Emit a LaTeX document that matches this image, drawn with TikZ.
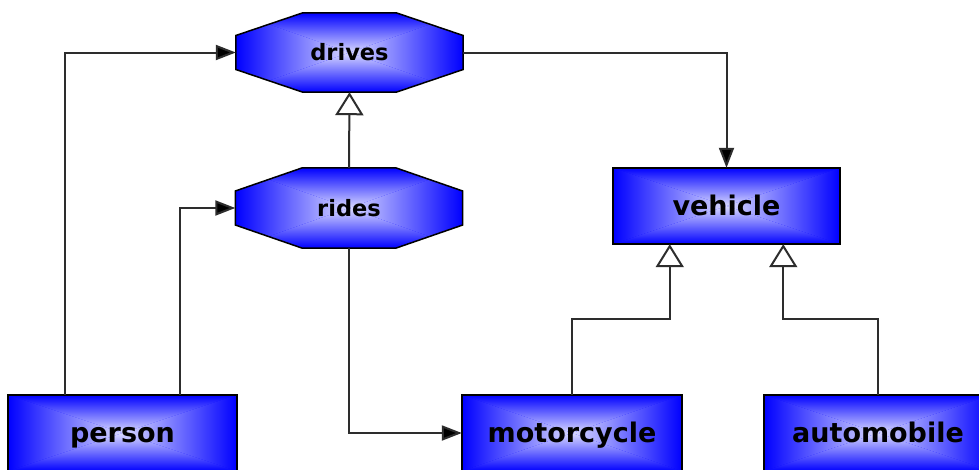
\documentclass[tikz,border=0pt]{standalone}
\usepackage{fontspec}
\setmainfont{DejaVu Sans}
\usetikzlibrary{arrows.meta,calc,backgrounds}
\definecolor{boxblue}{RGB}{0,0,255}
\definecolor{boxlight}{RGB}{218,218,255}
\definecolor{linegray}{RGB}{45,45,45}
\newcommand\pyrshade[2]{%
 \fill[boxblue] ($(#1.south west)+(0,-#2)$) rectangle (#1.north east);
 \shade[top color=boxblue, bottom color=boxlight] (#1.north west) -- (#1.north east) -- (#1.center) -- cycle;
 \shade[top color=boxlight, bottom color=boxblue] (#1.south west) -- (#1.south east) -- (#1.center) -- cycle;
 \shade[left color=boxblue, right color=boxlight] (#1.north west) -- (#1.south west) -- (#1.center) -- cycle;
 \shade[left color=boxlight, right color=boxblue] (#1.north east) -- (#1.south east) -- (#1.center) -- cycle;
}
\newcommand\octpath[1]{($(#1.west)+(0,17)$) -- ($(#1.north west)+(67,0)$) -- ($(#1.north east)+(-67,0)$) -- ($(#1.east)+(0,17)$) -- ($(#1.east)+(0,-17)$) -- ($(#1.south east)+(-67,0)$) -- ($(#1.south west)+(67,0)$) -- ($(#1.west)+(0,-17)$) -- cycle}
\newcommand\boxnode[2][0]{%
 \pyrshade{#2}{#1}
 \draw[line width=1.5pt, black] ($(#2.south west)+(0,-#1)$) rectangle (#2.north east);
}
\newcommand\octnode[1]{%
 \begin{scope}
 \clip \octpath{#1};
 \pyrshade{#1}{0}
 \end{scope}
 \draw[line width=1.5pt, black, line join=miter] \octpath{#1};
}
\begin{document}
\begin{tikzpicture}[x=1pt,y=1pt,
  bigbox/.style={rectangle, inner sep=0pt, minimum height=76pt, text=black,
    text height=20pt, text depth=2pt,
    font=\fontsize{27}{31}\selectfont\bfseries},
  octbox/.style={rectangle, inner sep=0pt, minimum height=79pt, minimum width=227pt, text=black,
    text height=17pt, text depth=1pt,
    font=\fontsize{22.5}{26}\selectfont\bfseries},
  assoc/.style={draw=linegray, line width=2pt, -{Triangle[length=20pt,width=15pt,fill=black]}},
  gen/.style={draw=linegray, line width=2pt, -{Triangle[open,length=23pt,width=28pt,fill=white]}}]
\useasboundingbox (0,0) rectangle (979,-469);

\node[octbox] (drives) at (349.5,-52.5) {drives};
\node[octbox, minimum height=80pt] (rides) at (349,-208) {rides};
\node[bigbox, minimum width=227pt] (vehicle) at (726.5,-206) {vehicle};
\node[bigbox, minimum width=229pt] (person) at (122.5,-433) {person};
\node[bigbox, minimum width=220pt] (motorcycle) at (572,-433) {motorcycle};
\node[bigbox, minimum width=228pt] (automobile) at (878,-433) {automobile};

\begin{pgfonlayer}{background}
\fill[white] (0,0) rectangle (979,-469);
\octnode{drives}
\octnode{rides}
\boxnode{vehicle}
\boxnode[12]{person}
\boxnode[12]{motorcycle}
\boxnode[12]{automobile}
\end{pgfonlayer}

\draw[assoc] ([xshift=-57.25pt]person.north) |- (drives.west);
\draw[assoc] ([xshift=57.25pt]person.north) |- (rides.west);
\draw[assoc] (rides.south) |- (motorcycle.west);
\draw[assoc] (drives.east) -| (vehicle.north);
\draw[gen] (rides.north) -- (drives.south);
\draw[gen] (motorcycle.north) -- ++(0,76) -| ([xshift=-56.75pt]vehicle.south);
\draw[gen] (automobile.north) -- ++(0,76) -| ([xshift=56.75pt]vehicle.south);
\end{tikzpicture}
\end{document}
